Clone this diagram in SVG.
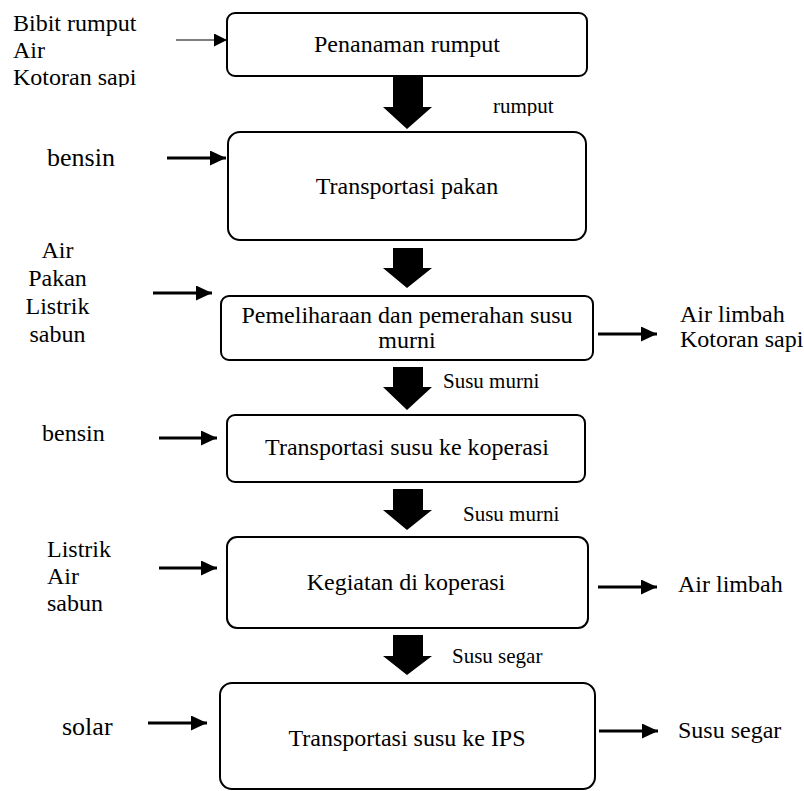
<svg xmlns="http://www.w3.org/2000/svg" width="804" height="791" viewBox="0 0 804 791" font-family="'Liberation Serif', 'Times New Roman', serif">
<style>
text{font-family:"Liberation Serif","Times New Roman",serif;fill:#000}
.box{fill:#fff;stroke:#000;stroke-width:2}
.bt{font-size:24px;text-anchor:middle}
.lb{font-size:24px}
.sm{font-size:21px}
.ar{stroke:#000;stroke-width:3;fill:none;marker-end:url(#ah)}
.thin{stroke:#000;stroke-width:1.2;fill:none;marker-end:url(#ahs)}
.blk{fill:#000}
</style>
<defs>
<marker id="ah" markerUnits="userSpaceOnUse" markerWidth="17" markerHeight="16" refX="16" refY="7.5" orient="auto">
<path d="M0,0 L16,7.5 L0,15 z" fill="#000"/>
</marker>
<marker id="ahs" markerUnits="userSpaceOnUse" markerWidth="14" markerHeight="14" refX="13" refY="6.5" orient="auto">
<path d="M0,0 L13,6.5 L0,13 z" fill="#000"/>
</marker>
<clipPath id="clipTop"><rect x="0" y="0" width="200" height="87"/></clipPath>
<clipPath id="clipRum"><rect x="480" y="90" width="100" height="26"/></clipPath>
</defs>

<g id="node-penanaman">
<rect class="box" x="227" y="13" width="360" height="63" rx="8"/>
<text class="bt" x="407" y="52">Penanaman rumput</text>
</g>
<g id="node-transportasi-pakan">
<rect class="box" x="228" y="132" width="358" height="108" rx="12"/>
<text class="bt" x="407" y="194">Transportasi pakan</text>
</g>
<g id="node-pemeliharaan">
<rect class="box" x="221" y="296" width="372" height="64" rx="8"/>
<text class="bt" x="407" y="323">Pemeliharaan dan pemerahan susu</text>
<text class="bt" x="407" y="348">murni</text>
</g>
<g id="node-transportasi-koperasi">
<rect class="box" x="227" y="415" width="358" height="67" rx="8"/>
<text class="bt" x="407" y="455">Transportasi susu ke koperasi</text>
</g>
<g id="node-kegiatan">
<rect class="box" x="227" y="537" width="361" height="91" rx="10"/>
<text class="bt" x="406" y="590">Kegiatan di koperasi</text>
</g>
<g id="node-transportasi-ips">
<rect class="box" x="220" y="683" width="375" height="106" rx="12"/>
<text class="bt" x="407" y="746">Transportasi susu ke IPS</text>
</g>

<g id="inputs">
<g clip-path="url(#clipTop)">
<text class="lb" x="13" y="31">Bibit rumput</text>
<text class="lb" x="13" y="58">Air</text>
<text class="lb" x="13" y="85">Kotoran sapi</text>
</g>
<text x="47" y="166" style="font-size:26px">bensin</text>
<text class="lb" x="57.5" y="258" text-anchor="middle">Air</text>
<text class="lb" x="57.5" y="286" text-anchor="middle">Pakan</text>
<text class="lb" x="57.5" y="314" text-anchor="middle">Listrik</text>
<text class="lb" x="57.5" y="342" text-anchor="middle">sabun</text>
<text class="lb" x="42" y="441">bensin</text>
<text class="lb" x="47" y="557">Listrik</text>
<text class="lb" x="47" y="584">Air</text>
<text class="lb" x="47" y="611">sabun</text>
<text x="62" y="735" style="font-size:26px">solar</text>
</g>

<g id="outputs">
<text class="lb" x="680" y="322">Air limbah</text>
<text class="lb" x="680" y="347">Kotoran sapi</text>
<text class="lb" x="678" y="592">Air limbah</text>
<text class="lb" x="678" y="738">Susu segar</text>
</g>

<g id="flow-labels">
<text class="sm" x="493" y="113" clip-path="url(#clipRum)">rumput</text>
<text class="sm" x="443" y="388">Susu murni</text>
<text class="sm" x="463" y="521">Susu murni</text>
<text class="sm" x="452" y="663">Susu segar</text>
</g>

<g id="connectors">
<line class="thin" x1="176" y1="40" x2="227" y2="40"/>
<line class="ar" x1="167" y1="158" x2="226" y2="158"/>
<line class="ar" x1="153" y1="293" x2="212" y2="293"/>
<line class="ar" x1="159" y1="438" x2="217" y2="438"/>
<line class="ar" x1="159" y1="568" x2="217" y2="568"/>
<line class="ar" x1="148" y1="723" x2="207" y2="723"/>
<line class="ar" x1="598" y1="334" x2="657" y2="334"/>
<line class="ar" x1="598" y1="587" x2="657" y2="587"/>
<line class="ar" x1="599" y1="731" x2="658" y2="731"/>
<polygon class="blk" points="393,77 423,77 423,107 432,107 407,129 383,107 393,107"/>
<polygon class="blk" points="393,248 423,248 423,268 432,268 407,288 383,268 393,268"/>
<polygon class="blk" points="393,367 423,367 423,387 432,387 407,410 383,387 393,387"/>
<polygon class="blk" points="393,489 423,489 423,510 432,510 407,530 383,510 393,510"/>
<polygon class="blk" points="393,635 423,635 423,656 432,656 407,675 383,656 393,656"/>
</g>
</svg>
